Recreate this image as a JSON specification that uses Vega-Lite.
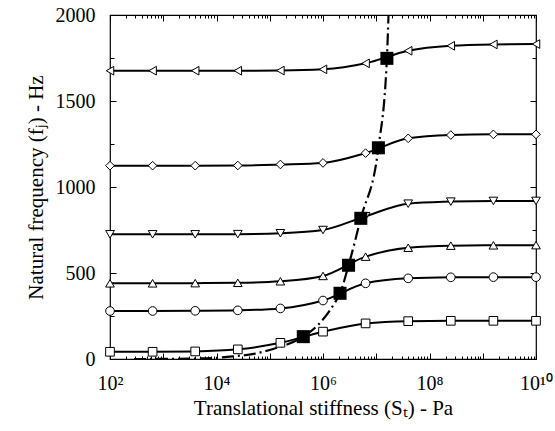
{
  "$schema": "https://vega.github.io/schema/vega-lite/v6.json",
  "autosize": "none",
  "width": 426,
  "height": 344,
  "padding": {"left": 110, "top": 15, "right": 19, "bottom": 72},
  "background": "white",
  "config": {
    "view": {"stroke": "black", "strokeWidth": 1.2},
    "axis": {"domain": false, "grid": false, "tickColor": "black", "labelColor": "black", "titleColor": "black", "labelFont": "Liberation Serif", "titleFont": "Liberation Serif", "labelFontSize": 20, "titleFontSize": 21, "titleFontWeight": "normal", "tickWidth": 1}
  },
  "datasets": {
    "modes": [
      {"S": 100, "f": 42, "mode": "m1"}, {"S": 631, "f": 42, "mode": "m1"}, {"S": 3981, "f": 44, "mode": "m1"}, {"S": 25119, "f": 56, "mode": "m1"}, {"S": 158489, "f": 94, "mode": "m1"}, {"S": 1000000, "f": 159, "mode": "m1"}, {"S": 6309573, "f": 207, "mode": "m1"}, {"S": 39810717, "f": 220, "mode": "m1"}, {"S": 251188643, "f": 222, "mode": "m1"}, {"S": 1584893192, "f": 222, "mode": "m1"}, {"S": 10000000000, "f": 222, "mode": "m1"},
      {"S": 100, "f": 279, "mode": "m2"}, {"S": 631, "f": 279, "mode": "m2"}, {"S": 3981, "f": 280, "mode": "m2"}, {"S": 25119, "f": 283, "mode": "m2"}, {"S": 158489, "f": 294, "mode": "m2"}, {"S": 1000000, "f": 340, "mode": "m2"}, {"S": 6309573, "f": 440, "mode": "m2"}, {"S": 39810717, "f": 469, "mode": "m2"}, {"S": 251188643, "f": 475, "mode": "m2"}, {"S": 1584893192, "f": 476, "mode": "m2"}, {"S": 10000000000, "f": 476, "mode": "m2"},
      {"S": 100, "f": 440, "mode": "m3"}, {"S": 631, "f": 440, "mode": "m3"}, {"S": 3981, "f": 441, "mode": "m3"}, {"S": 25119, "f": 443, "mode": "m3"}, {"S": 158489, "f": 452, "mode": "m3"}, {"S": 1000000, "f": 483, "mode": "m3"}, {"S": 6309573, "f": 595, "mode": "m3"}, {"S": 39810717, "f": 647, "mode": "m3"}, {"S": 251188643, "f": 659, "mode": "m3"}, {"S": 1584893192, "f": 661, "mode": "m3"}, {"S": 10000000000, "f": 662, "mode": "m3"},
      {"S": 100, "f": 725, "mode": "m4"}, {"S": 631, "f": 725, "mode": "m4"}, {"S": 3981, "f": 725, "mode": "m4"}, {"S": 25119, "f": 726, "mode": "m4"}, {"S": 158489, "f": 731, "mode": "m4"}, {"S": 1000000, "f": 750, "mode": "m4"}, {"S": 6309573, "f": 830, "mode": "m4"}, {"S": 39810717, "f": 903, "mode": "m4"}, {"S": 251188643, "f": 915, "mode": "m4"}, {"S": 1584893192, "f": 919, "mode": "m4"}, {"S": 10000000000, "f": 919, "mode": "m4"},
      {"S": 100, "f": 1124, "mode": "m5"}, {"S": 631, "f": 1124, "mode": "m5"}, {"S": 3981, "f": 1124, "mode": "m5"}, {"S": 25119, "f": 1125, "mode": "m5"}, {"S": 158489, "f": 1131, "mode": "m5"}, {"S": 1000000, "f": 1140, "mode": "m5"}, {"S": 6309573, "f": 1197, "mode": "m5"}, {"S": 39810717, "f": 1283, "mode": "m5"}, {"S": 251188643, "f": 1302, "mode": "m5"}, {"S": 1584893192, "f": 1306, "mode": "m5"}, {"S": 10000000000, "f": 1306, "mode": "m5"},
      {"S": 100, "f": 1676, "mode": "m6"}, {"S": 631, "f": 1676, "mode": "m6"}, {"S": 3981, "f": 1676, "mode": "m6"}, {"S": 25119, "f": 1676, "mode": "m6"}, {"S": 158489, "f": 1677, "mode": "m6"}, {"S": 1000000, "f": 1684, "mode": "m6"}, {"S": 6309573, "f": 1719, "mode": "m6"}, {"S": 39810717, "f": 1792, "mode": "m6"}, {"S": 251188643, "f": 1821, "mode": "m6"}, {"S": 1584893192, "f": 1829, "mode": "m6"}, {"S": 10000000000, "f": 1831, "mode": "m6"}
    ],
    "crit": [
      {"S": 426580, "f": 130}, {"S": 2089296, "f": 382}, {"S": 3019952, "f": 545}, {"S": 5128614, "f": 818}, {"S": 10964782, "f": 1228}, {"S": 15848932, "f": 1748}
    ],
    "locus": [
      {"S": 282, "f": 0}, {"S": 1000, "f": 0.5}, {"S": 3162, "f": 2}, {"S": 10000, "f": 7}, {"S": 20000, "f": 15}, {"S": 50000, "f": 30}, {"S": 120000, "f": 60}, {"S": 426580, "f": 130}, {"S": 800000, "f": 197}, {"S": 1600000, "f": 318}, {"S": 2089296, "f": 382}, {"S": 3019952, "f": 545}, {"S": 5128614, "f": 818}, {"S": 10964782, "f": 1228}, {"S": 15848932, "f": 1748}, {"S": 17000000, "f": 2000}
    ]
  },
  "resolve": {"axis": {"x": "independent", "y": "independent"}},
  "layer": [
    {
      "data": {"name": "modes"},
      "mark": {"type": "line", "interpolate": "monotone", "stroke": "black", "strokeWidth": 2, "clip": true},
      "encoding": {
        "x": {"field": "S", "type": "quantitative", "scale": {"type": "log", "domain": [100, 10000000000], "nice": false},
          "axis": {"orient": "bottom", "title": "Translational stiffness (Sₜ) - Pa", "values": [100, 1000, 10000, 100000, 1000000, 10000000, 100000000, 1000000000, 10000000000], "labelExpr": "datum.value == 100 ? '10²' : datum.value == 10000 ? '10⁴' : datum.value == 1000000 ? '10⁶' : datum.value == 100000000 ? '10⁸' : datum.value == 10000000000 ? '10¹⁰' : ''", "tickSize": -6, "labelPadding": 20, "labelFlush": false, "labelOverlap": false, "titlePadding": 4}},
        "y": {"field": "f", "type": "quantitative", "scale": {"domain": [0, 2000], "nice": false},
          "axis": {"orient": "left", "title": "Natural frequency (fⱼ) - Hz", "format": "d", "values": [0, 500, 1000, 1500, 2000], "tickSize": -6, "labelPadding": 21, "titlePadding": 9}},
        "detail": {"field": "mode"}
      }
    },
    {
      "data": {"name": "locus"},
      "mark": {"type": "line", "interpolate": "monotone", "stroke": "black", "strokeWidth": 2.2, "strokeDash": [12, 4, 2, 4], "clip": true},
      "encoding": {
        "x": {"field": "S", "type": "quantitative", "axis": {"orient": "bottom", "title": null, "labels": false, "values": [200,300,400,500,600,700,800,900,2000,3000,4000,5000,6000,7000,8000,9000,20000,30000,40000,50000,60000,70000,80000,90000,200000,300000,400000,500000,600000,700000,800000,900000,2000000,3000000,4000000,5000000,6000000,7000000,8000000,9000000,20000000,30000000,40000000,50000000,60000000,70000000,80000000,90000000,200000000,300000000,400000000,500000000,600000000,700000000,800000000,900000000,2000000000,3000000000,4000000000,5000000000,6000000000,7000000000,8000000000,9000000000], "tickSize": -3}},
        "y": {"field": "f", "type": "quantitative", "axis": {"orient": "left", "title": null, "labels": false, "values": [250, 750, 1250, 1750], "tickSize": -4}}
      }
    },
    {
      "data": {"name": "modes"},
      "mark": {"type": "point", "filled": true, "fill": "white", "stroke": "black", "strokeWidth": 1, "opacity": 1, "size": 75},
      "encoding": {
        "x": {"field": "S", "type": "quantitative", "axis": {"orient": "top", "title": null, "labels": false, "values": [100, 1000, 10000, 100000, 1000000, 10000000, 100000000, 1000000000, 10000000000], "tickSize": -6}},
        "y": {"field": "f", "type": "quantitative", "axis": {"orient": "right", "title": null, "labels": false, "values": [0, 500, 1000, 1500, 2000], "tickSize": -6}},
        "shape": {"field": "mode", "type": "nominal", "legend": null, "scale": {"domain": ["m1", "m2", "m3", "m4", "m5", "m6"], "range": ["square", "circle", "triangle-up", "triangle-down", "diamond", "triangle-left"]}}
      }
    },
    {
      "data": {"name": "crit"},
      "mark": {"type": "square", "filled": true, "color": "black", "opacity": 1, "size": 170},
      "encoding": {
        "x": {"field": "S", "type": "quantitative", "axis": {"orient": "top", "title": null, "labels": false, "values": [200,300,400,500,600,700,800,900,2000,3000,4000,5000,6000,7000,8000,9000,20000,30000,40000,50000,60000,70000,80000,90000,200000,300000,400000,500000,600000,700000,800000,900000,2000000,3000000,4000000,5000000,6000000,7000000,8000000,9000000,20000000,30000000,40000000,50000000,60000000,70000000,80000000,90000000,200000000,300000000,400000000,500000000,600000000,700000000,800000000,900000000,2000000000,3000000000,4000000000,5000000000,6000000000,7000000000,8000000000,9000000000], "tickSize": -3}},
        "y": {"field": "f", "type": "quantitative", "axis": {"orient": "right", "title": null, "labels": false, "values": [250, 750, 1250, 1750], "tickSize": -4}}
      }
    }
  ]
}
